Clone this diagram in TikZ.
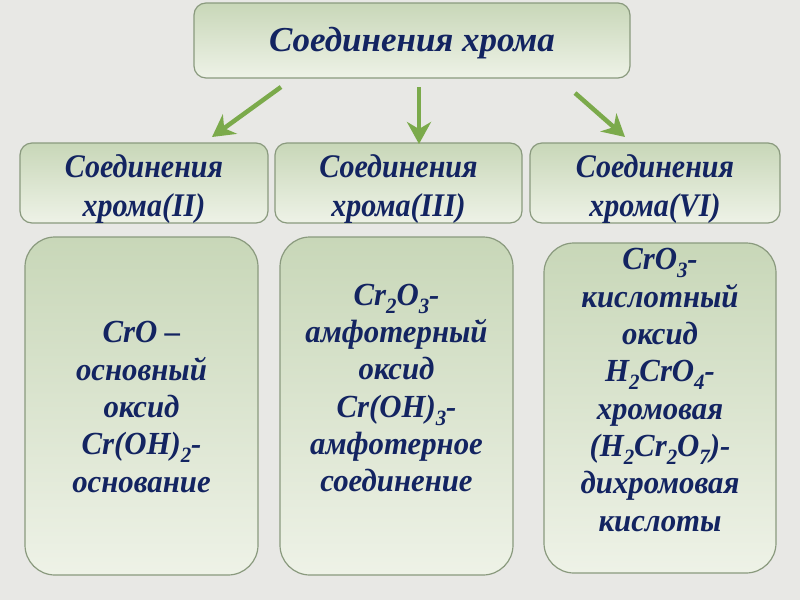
\documentclass[tikz,border=0pt]{standalone}
\usepackage{fontspec}
\setmainfont{Liberation Serif}
\newfontfamily\cardfont[FakeStretch=1.1]{Liberation Serif}
\usetikzlibrary{arrows.meta}
\definecolor{navy}{HTML}{132461}
\definecolor{boxtop}{HTML}{C8D7B8}
\definecolor{boxbot}{HTML}{EEF2E7}
\definecolor{boxline}{HTML}{8A9A7E}
\definecolor{arrowgreen}{HTML}{7BAA4B}
\definecolor{bgcol}{HTML}{E8E8E5}
\newcommand\lowsub[1]{\raisebox{-0.55ex}{\fontsize{19}{19}\selectfont #1}}
\begin{document}
\begin{tikzpicture}[x=1pt,y=-1pt,
  hdr/.style={draw=boxline, line width=1.2pt, rounded corners=12pt,
    top color=boxtop, bottom color=boxbot, inner sep=0pt},
  card/.style={draw=boxline, line width=1.2pt, rounded corners=30pt,
    top color=boxtop, bottom color=boxbot, inner sep=0pt},
  hdrtext/.style={text=navy, align=center, inner sep=0pt,
    font=\bfseries\itshape\fontsize{30}{36}\selectfont},
  cardtext/.style={text=navy, align=center, inner sep=0pt,
    font=\cardfont\bfseries\itshape\fontsize{28}{32.5}\selectfont},
  arr/.style={-{Stealth[length=22pt,width=24pt,inset=7pt]}, line width=4.5pt, draw=arrowgreen}
]
\fill[bgcol] (0,0) rectangle (800,600);
\useasboundingbox (0,0) rectangle (800,600);

% top box
\node[hdr, minimum width=436pt, minimum height=75pt] (top) at (412,40.5) {};
\node[hdrtext, font=\bfseries\itshape\fontsize{35}{40}\selectfont] (toptxt) at (412,43) {Соединения хрома};

% middle boxes
\node[hdr, minimum width=248pt, minimum height=80pt] (m1) at (144,183) {};
\node[hdr, minimum width=247pt, minimum height=80pt] (m2) at (398.5,183) {};
\node[hdr, minimum width=250pt, minimum height=80pt] (m3) at (655,183) {};
\node[hdrtext] (m1t) at (144,189) {\scalebox{1}[1.1]{\begin{tabular}{@{}c@{}}Соединения\\хрома(II)\end{tabular}}};
\node[hdrtext] (m2t) at (398.5,189) {\scalebox{1}[1.1]{\begin{tabular}{@{}c@{}}Соединения\\хрома(III)\end{tabular}}};
\node[hdrtext] (m3t) at (655,189) {\scalebox{1}[1.1]{\begin{tabular}{@{}c@{}}Соединения\\хрома(VI)\end{tabular}}};

% arrows
\coordinate (a1s) at (281,87);  \coordinate (a1e) at (212,137);
\coordinate (a2s) at (419,87);  \coordinate (a2e) at (419,144);
\coordinate (a3s) at (575,93);  \coordinate (a3e) at (625,137);
\draw[arr] (a1s) -- (a1e);
\draw[arr] (a2s) -- (a2e);
\draw[arr] (a3s) -- (a3e);

% bottom cards
\node[card, minimum width=233pt, minimum height=338pt] (b1) at (141.5,406) {};
\node[card, minimum width=233pt, minimum height=338pt] (b2) at (396.5,406) {};
\node[card, minimum width=232pt, minimum height=330pt] (b3) at (660,408) {};

\node[cardtext] (b1t) at (141.5,410) {\scalebox{1}[1.15]{\begin{tabular}{@{}c@{}}CrO –\\основный\\оксид\\Cr(OH)\lowsub{2}-\\основание\end{tabular}}};
\node[cardtext] (b2t) at (396.5,391) {\scalebox{1}[1.15]{\begin{tabular}{@{}c@{}}Cr\lowsub{2}O\lowsub{3}-\\амфотерный\\оксид\\Cr(OH)\lowsub{3}-\\амфотерное\\соединение\end{tabular}}};
\node[cardtext] (b3t) at (660,393) {\scalebox{1}[1.15]{\begin{tabular}{@{}c@{}}CrO\lowsub{3}-\\кислотный\\оксид\\H\lowsub{2}CrO\lowsub{4}-\\хромовая\\(H\lowsub{2}Cr\lowsub{2}O\lowsub{7})-\\дихромовая\\кислоты\end{tabular}}};
\end{tikzpicture}
\end{document}
